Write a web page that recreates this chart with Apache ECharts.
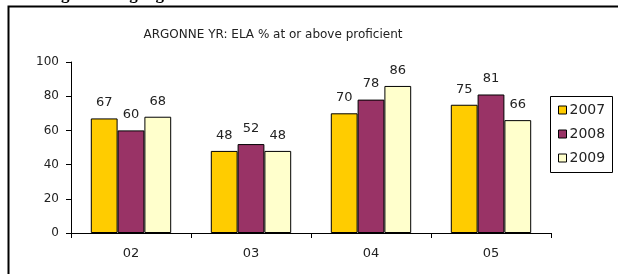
<!DOCTYPE html>
<html>
<head>
<meta charset="utf-8">
<script src="https://cdn.jsdelivr.net/npm/echarts@6/dist/echarts.min.js"></script>
<style>
  html, body { margin: 0; padding: 0; background: #fff; }
  #chart { width: 618px; height: 274px; }
</style>
</head>
<body>
<div id="chart"></div>
<script>
// datos
const categories = ["02", "03", "04", "05"];
const years = ["2007", "2008", "2009"];
const values2007 = [67, 48, 70, 75];
const values2008 = [60, 52, 78, 81];
const values2009 = [68, 48, 86, 66];
const yTicks = [0, 20, 40, 60, 80, 100];

const colors = ["#FFCC00", "#993366", "#FFFFCC"];
const font = "DejaVu Sans";

const chart = echarts.init(document.getElementById("chart"));

const makeSeries = (name, data, i) => ({
  name: name,
  type: "bar",
  data: data,
  barGap: "0%",
  barCategoryGap: "33%",
  itemStyle: { color: colors[i], borderColor: "#000", borderWidth: 1 },
  label: {
    show: true,
    position: "top",
    distance: 9,
    color: "#222",
    fontFamily: font,
    fontSize: 13,
  },
});

const option = {
  animation: false,
  graphic: [
    {
      // titulo de la pagina, cortado arriba
      type: "text",
      left: 3,
      top: -14,
      style: {
        text: "CST English/Language Arts",
        font: "bold 17px 'Liberation Serif'",
        fill: "#000",
      },
    },
    {
      // marco exterior
      type: "rect",
      shape: { x: 8.5, y: 6.5, width: 700, height: 400 },
      style: { fill: "none", stroke: "#000", lineWidth: 2 },
    },
    {
      // caja de la leyenda
      type: "rect",
      z: 10,
      shape: { x: 550.5, y: 96.5, width: 62, height: 76 },
      style: { fill: "none", stroke: "#000", lineWidth: 1 },
    },
  ],
  title: {
    text: "ARGONNE YR: ELA % at or above proficient",
    left: 268,
    textAlign: "center",
    top: 24,
    textStyle: { fontFamily: font, fontSize: 12, fontWeight: "normal", color: "#222" },
  },
  legend: {
    data: years,
    orient: "vertical",
    left: 558,
    top: 103,
    padding: 0,
    itemWidth: 8,
    itemHeight: 8,
    itemGap: 10,
    icon: "rect",
    textStyle: { fontFamily: font, fontSize: 14, lineHeight: 14, color: "#222", padding: [0, 0, 0, -2] },
    itemStyle: { borderColor: "#000", borderWidth: 1 },
  },
  grid: { left: 71, right: 67, top: 62, bottom: 41 },
  xAxis: {
    type: "category",
    data: categories,
    axisLine: { lineStyle: { color: "#000", width: 1 } },
    axisTick: { show: true, length: 5, lineStyle: { color: "#000" } },
    axisLabel: { fontFamily: font, fontSize: 13, color: "#222", margin: 14 },
  },
  yAxis: {
    type: "value",
    min: yTicks[0],
    max: yTicks[yTicks.length - 1],
    interval: 20,
    splitLine: { show: false },
    axisLine: { show: true, lineStyle: { color: "#000", width: 1 } },
    axisTick: { show: true, length: 5, lineStyle: { color: "#000" } },
    axisLabel: { fontFamily: font, fontSize: 12, color: "#222", margin: 12 },
  },
  series: [
    makeSeries(years[0], values2007, 0),
    makeSeries(years[1], values2008, 1),
    makeSeries(years[2], values2009, 2),
  ],
};

chart.setOption(option);
</script>
</body>
</html>
